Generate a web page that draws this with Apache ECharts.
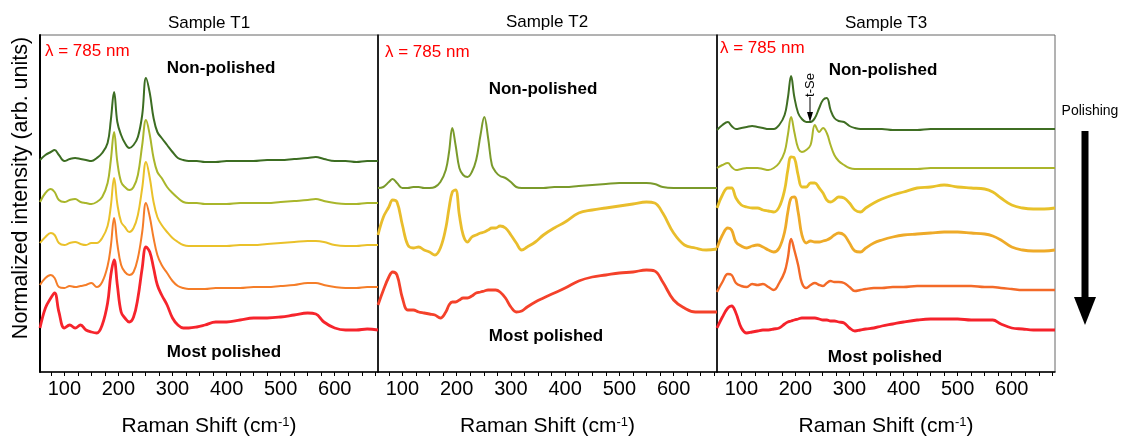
<!DOCTYPE html>
<html>
<head>
<meta charset="utf-8">
<script src="https://cdn.jsdelivr.net/npm/echarts@6/dist/echarts.min.js"></script>
<style>html,body{margin:0;padding:0;background:#fff}#c{width:1123px;height:437px}</style>
</head>
<body>
<div id="c"></div>
<script>
// Raman shift sampling (cm^-1)
const ramanShift = [55,65,75,82,90,100,110,120,130,140,150,160,170,180,186,192,198,205,212,220,228,236,244,251,258,265,272,280,290,300,310,320,330,345,360,380,400,425,450,475,500,525,550,565,580,600,620,640,660,680];
const xTickLabels = [100,200,300,400,500,600];
const xMinorTicks = [75,100,125,150,175,200,225,250,275,300,325,350,375,400,425,450,475,500,525,550,575,600,625,650,675];

// Sample T1 (offset, normalized intensity, arb. units)
const t1Step0 = [212,217,220,222,217,211,213,214,213,212,211,214,219,229,252,280,250,237,229,224,227,235,257,294,279,254,240,234,227,220,214,212,211,211,210,210,211,211,211,212,212,213,214,215,213,211,211,210,211,211];
const t1Step1 = [170,179,183,180,172,170,172,173,170,169,168,170,175,189,212,240,210,190,185,182,185,197,227,252,237,214,200,194,185,179,174,170,169,169,168,168,168,169,169,169,170,171,172,173,171,169,168,168,169,169];
const t1Step2 = [129,135,139,137,129,127,129,130,128,127,129,129,134,146,166,194,168,150,145,140,144,157,184,210,194,170,155,147,140,134,130,127,126,126,126,126,126,127,127,128,129,130,131,131,130,127,126,126,127,127];
const t1Step3 = [87,94,97,94,85,84,86,85,86,87,89,85,90,106,126,154,128,107,100,97,100,114,140,169,155,134,117,107,99,91,86,84,83,83,83,84,84,84,85,85,86,87,89,89,87,85,84,84,85,85];
const t1Step4 = [44,64,74,79,60,44,47,44,47,42,40,39,47,69,97,112,87,60,54,50,55,74,104,125,120,104,87,77,67,54,47,44,44,45,47,50,50,52,54,54,55,57,59,58,50,44,42,42,43,42];

// Sample T2
const t2Step0 = [184,185,190,193,189,184,184,185,185,184,184,185,190,202,220,244,227,204,197,195,200,212,237,255,234,207,200,196,194,190,185,184,184,184,184,185,185,186,187,188,189,189,189,188,185,184,184,184,184,184];
const t2Step1 = [137,155,165,172,170,147,127,124,125,122,120,117,124,144,164,180,182,157,137,130,135,137,139,140,142,144,144,146,144,137,129,122,125,130,137,144,150,159,162,164,166,168,170,169,159,139,127,124,122,123];
const t2Step2 = [67,82,95,100,97,74,62,62,60,59,58,57,54,60,67,70,70,72,74,74,76,79,80,81,82,82,82,80,74,65,60,61,65,70,74,79,84,91,95,97,99,100,102,101,90,72,64,60,60,60];

// Sample T3
const t3Step0 = [242,247,250,246,243,244,245,246,245,244,243,243,247,257,274,296,275,259,253,250,250,254,264,272,274,262,254,251,250,246,244,243,243,243,243,242,242,242,243,243,243,243,243,243,243,243,243,243,243,243];
const t3Step1 = [204,207,209,205,202,203,204,204,204,203,202,204,209,220,237,255,240,224,220,222,227,247,240,244,239,227,217,211,207,204,203,203,203,203,203,203,203,203,204,204,204,204,204,204,204,204,204,204,204,204];
const t3Step2 = [164,177,184,184,174,167,165,164,164,162,161,160,165,182,202,215,214,197,185,185,189,189,184,179,172,170,172,175,174,169,162,160,164,169,173,177,180,184,185,187,185,184,183,180,174,167,164,163,163,164];
const t3Step3 = [124,137,144,142,130,126,124,126,127,125,122,120,124,140,160,174,175,160,137,129,131,130,130,131,132,134,137,139,137,129,121,120,124,129,132,135,137,138,139,140,140,139,138,136,132,125,122,121,121,122];
const t3Step4 = [80,90,98,97,89,86,85,88,87,88,85,82,89,100,114,133,122,107,89,84,87,89,87,86,89,91,90,90,89,85,81,82,83,84,84,85,85,86,86,86,86,86,85,85,84,83,82,82,82,82];
const t3Step5 = [44,55,64,66,59,44,39,40,41,42,42,43,44,48,50,51,52,53,54,54,54,54,53,52,52,51,51,50,49,44,41,42,43,44,46,48,50,52,53,53,53,52,52,52,48,44,43,42,42,42];

const panelTitles = ['Sample T1','Sample T2','Sample T3'];

const FONT = '"Liberation Sans", Arial, Helvetica, sans-serif';
const panels = [
  {left:40, width:338},
  {left:378, width:339},
  {left:717, width:338}
];
const seriesDefs = [
  {p:0, d:t1Step0, c:'#3c6d22', w:2.0},
  {p:0, d:t1Step1, c:'#a9b62b', w:2.0},
  {p:0, d:t1Step2, c:'#eac12a', w:2.0},
  {p:0, d:t1Step3, c:'#f57d28', w:2.0},
  {p:0, d:t1Step4, c:'#f6242c', w:2.8},
  {p:1, d:t2Step0, c:'#7a9a2b', w:2.0},
  {p:1, d:t2Step1, c:'#e9bd2c', w:2.8},
  {p:1, d:t2Step2, c:'#f4412a', w:2.8},
  {p:2, d:t3Step0, c:'#3f6e23', w:2.0},
  {p:2, d:t3Step1, c:'#abb52b', w:2.0},
  {p:2, d:t3Step2, c:'#e8c12a', w:2.8},
  {p:2, d:t3Step3, c:'#eeaa28', w:2.8},
  {p:2, d:t3Step4, c:'#f36a28', w:2.4},
  {p:2, d:t3Step5, c:'#f5222b', w:2.8}
];

function txt(x, y, text, opts) {
  opts = opts || {};
  return {
    type: 'text', x: x, y: y, rotation: opts.rot || 0, z: 100,
    style: {
      text: text, fill: opts.fill || '#000',
      font: (opts.bold ? 'bold ' : '') + (opts.size || 17) + 'px ' + FONT,
      align: opts.align || 'center', textAlign: opts.align || 'center',
      verticalAlign: 'middle', textVerticalAlign: 'middle'
    }
  };
}

const graphics = [
  txt(209, 23, panelTitles[0]),
  txt(547, 22, panelTitles[1]),
  txt(886, 23, panelTitles[2]),
  txt(45, 51, 'λ = 785 nm', {align:'left', fill:'#ff0000'}),
  txt(385, 52, 'λ = 785 nm', {align:'left', fill:'#ff0000'}),
  txt(720, 48, 'λ = 785 nm', {align:'left', fill:'#ff0000'}),
  txt(221, 68, 'Non-polished', {bold:true}),
  txt(543, 89, 'Non-polished', {bold:true}),
  txt(883, 70, 'Non-polished', {bold:true}),
  txt(224, 352, 'Most polished', {bold:true}),
  txt(546, 336, 'Most polished', {bold:true}),
  txt(885, 357, 'Most polished', {bold:true}),
  txt(21, 188, 'Normalized intensity (arb. units)', {size:21.5, rot:Math.PI/2}),
  txt(810, 85, 't-Se', {size:13, rot:Math.PI/2}),
  {type:'line', z:100, shape:{x1:810, y1:97, x2:810, y2:113}, style:{stroke:'#000', lineWidth:1}},
  {type:'polygon', z:100, shape:{points:[[807,112],[813,112],[810,122]]}, style:{fill:'#000'}},
  txt(1090, 111, 'Polishing', {size:14}),
  {type:'rect', z:100, shape:{x:1081.5, y:131, width:7, height:168}, style:{fill:'#000'}},
  {type:'polygon', z:100, shape:{points:[[1074,297],[1096,297],[1085,325]]}, style:{fill:'#000'}}
];

const option = {
  animation: false,
  backgroundColor: '#fff',
  grid: panels.map(p => ({left:p.left, top:35, width:p.width, height:337, containLabel:false, outerBoundsMode:'none', show:true, borderColor:'#666', borderWidth:1, backgroundColor:'rgba(0,0,0,0)'})),
  xAxis: panels.map((p, i) => ({
    gridIndex: i, type: 'value', min: 55, max: 680,
    axisLine: {show:true, onZero:false, lineStyle:{color:'#000', width:1.5}},
    axisTick: {show:true, customValues:xMinorTicks, length:4, lineStyle:{color:'#000', width:1}},
    axisLabel: {customValues:xTickLabels, fontSize:20, color:'#000', margin:7, fontFamily:FONT},
    splitLine: {show:false},
    name: '{a|Raman Shift (cm}{b|-1}{a|)}',
    nameLocation: 'middle', nameGap: 44,
    nameTextStyle: {fontSize:21, fontFamily:FONT, color:'#000',
      rich: {a:{fontSize:21, fontFamily:FONT, color:'#000'}, b:{fontSize:13, fontFamily:FONT, color:'#000', verticalAlign:'top'}}}
  })),
  yAxis: panels.map((p, i) => ({
    gridIndex: i, type: 'value', min: 0, max: 337,
    axisLine: {show:true, onZero:false, lineStyle:{color:'#000', width: i === 0 ? 2 : 1.5}},
    axisTick: {show:false}, axisLabel: {show:false}, splitLine: {show:false}
  })),
  series: seriesDefs.map(s => ({
    type: 'line', xAxisIndex: s.p, yAxisIndex: s.p,
    data: ramanShift.map((x, k) => [x, s.d[k]]),
    showSymbol: false, smooth: 0.4, silent: true,
    lineStyle: {color: s.c, width: s.w}
  })),
  graphic: graphics
};

const chart = echarts.init(document.getElementById('c'), null, {renderer:'canvas'});
chart.setOption(option);
</script>
</body>
</html>
